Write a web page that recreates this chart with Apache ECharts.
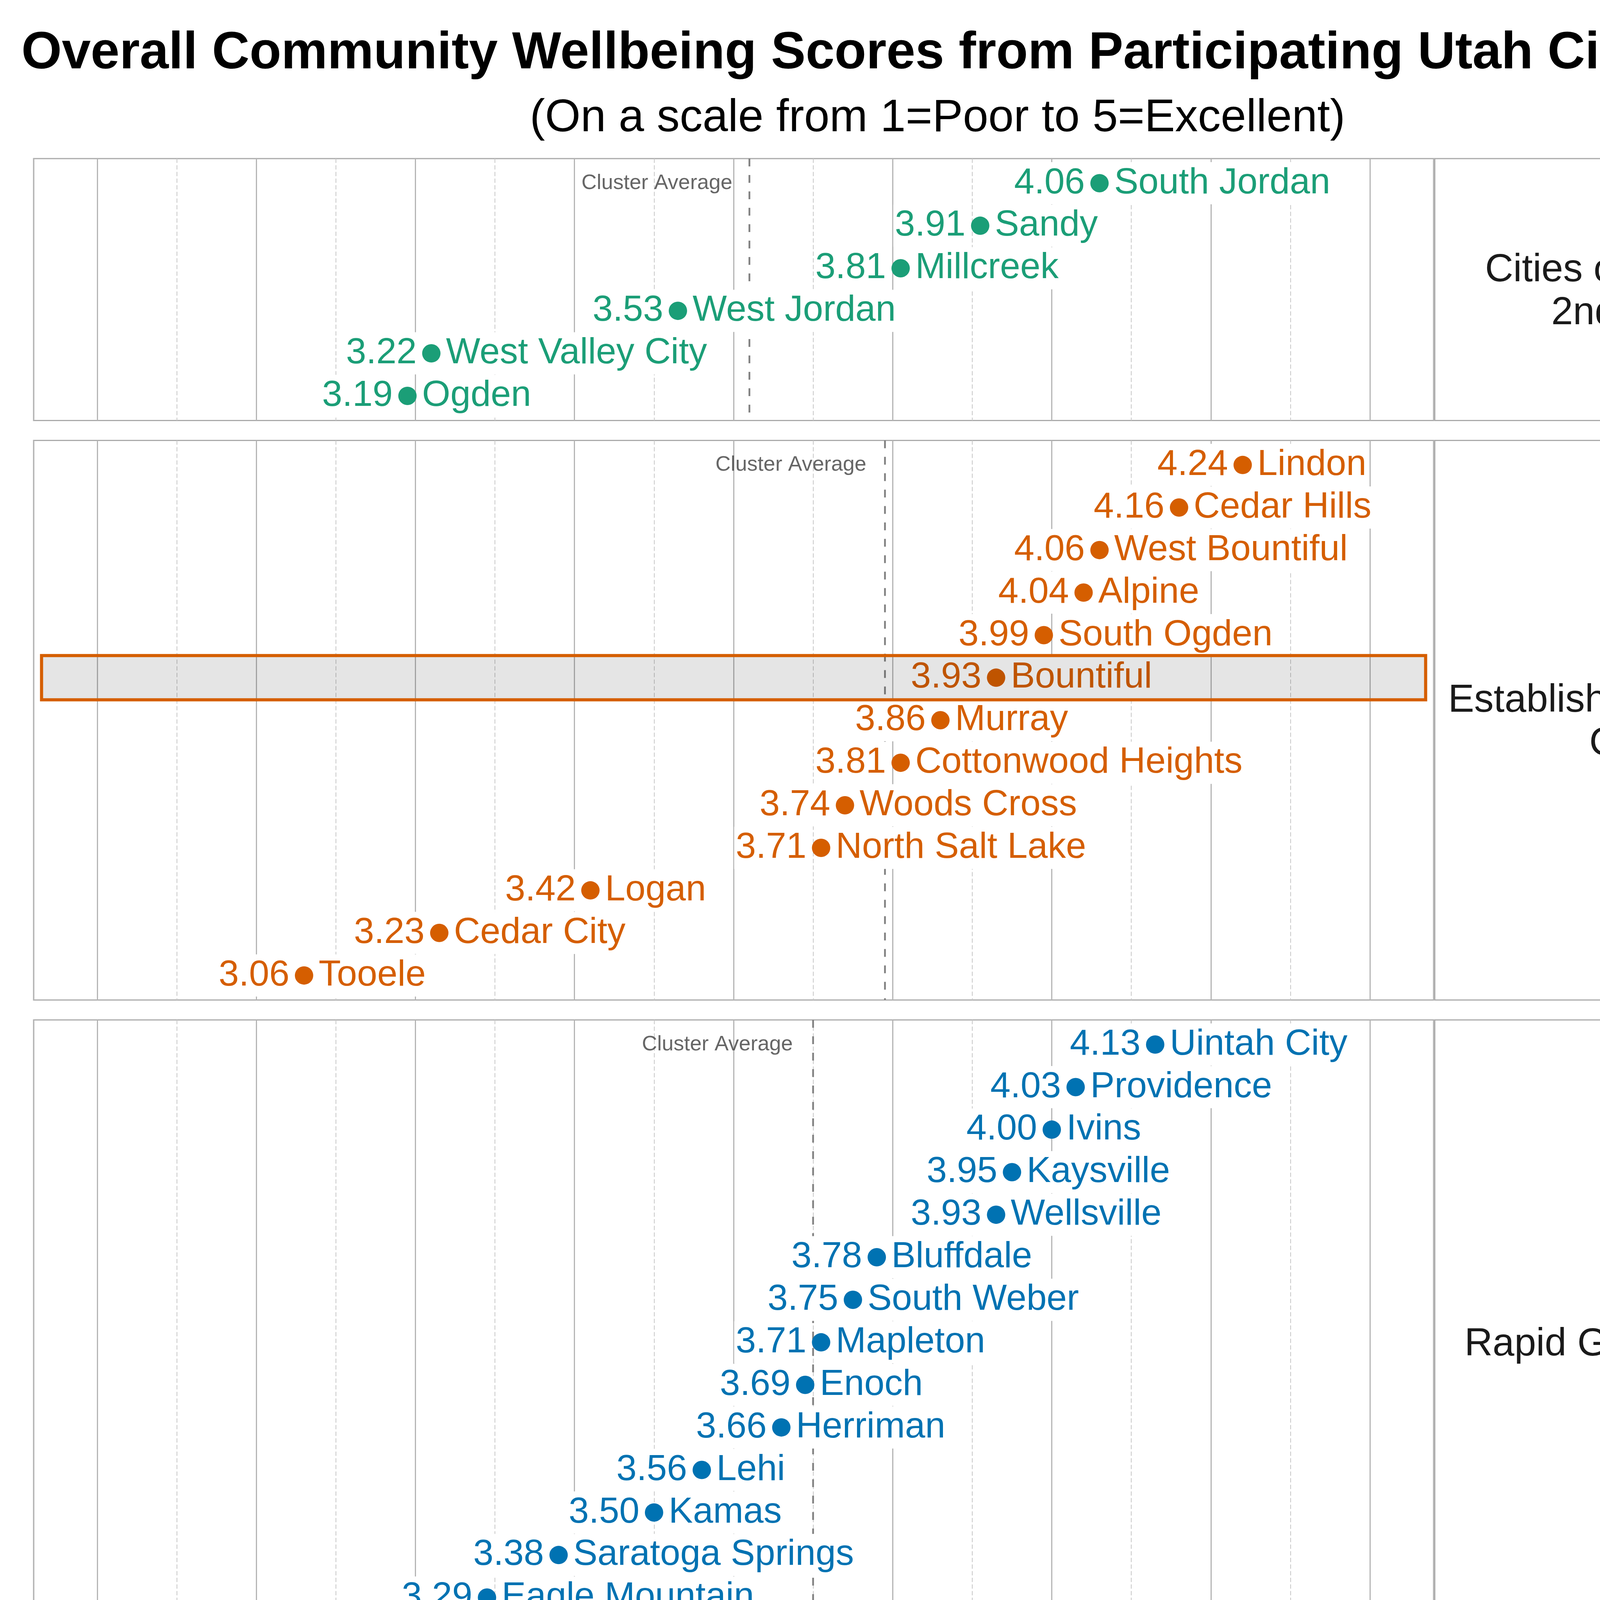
<!DOCTYPE html>
<html>
<head>
<meta charset="utf-8">
<title>Utah Community Wellbeing 2026</title>
<script src="https://cdn.jsdelivr.net/npm/echarts@6/dist/echarts.min.js"></script>
<style>
  html, body { margin: 0; padding: 0; background: #fff; }
  #chart { width: 4800px; height: 7200px; }
</style>
</head>
<body>
<div id="chart"></div>
<script>
// 各组城市与得分
const clusterNames = [
  'Cities of the 1st &\n2nd Class',
  'Established/Mid-sized\nCities',
  'Rapid Growth Cities',
  'Rural Hub/Resort\nCommunities',
  'Traditional Rural\nCommunities'
]
const clusterColors = ['#1b9e77', '#d55e00', '#0072b2', '#b2182b', '#6a3d9a']

const firstClassCities = ['South Jordan', 'Sandy', 'Millcreek', 'West Jordan', 'West Valley City', 'Ogden']
const firstClassScores = [4.06, 3.91, 3.81, 3.53, 3.22, 3.19]

const establishedCities = ['Lindon', 'Cedar Hills', 'West Bountiful', 'Alpine', 'South Ogden', 'Bountiful',
  'Murray', 'Cottonwood Heights', 'Woods Cross', 'North Salt Lake', 'Logan', 'Cedar City', 'Tooele']
const establishedScores = [4.24, 4.16, 4.06, 4.04, 3.99, 3.93, 3.86, 3.81, 3.74, 3.71, 3.42, 3.23, 3.06]

const rapidCities = ['Uintah City', 'Providence', 'Ivins', 'Kaysville', 'Wellsville', 'Bluffdale', 'South Weber',
  'Mapleton', 'Enoch', 'Herriman', 'Lehi', 'Kamas', 'Saratoga Springs', 'Eagle Mountain', 'Grantsville']
const rapidScores = [4.13, 4.03, 4.00, 3.95, 3.93, 3.78, 3.75, 3.71, 3.69, 3.66, 3.56, 3.50, 3.38, 3.29, 3.08]

const ruralHubCities = ['Midway', 'Alta', 'Morgan', 'Bluff', 'Springdale', 'Richfield', 'Heber', 'Nephi',
  'Manila', 'Blanding', 'Vernal', 'Moab', 'Tremonton', 'Wendover']
const ruralHubScores = [4.24, 4.15, 3.89, 3.80, 3.71, 3.57, 3.51, 3.51, 3.51, 3.33, 3.21, 3.12, 2.94, 2.92]

const traditionalCities = ['Mayfield', 'Lewiston', 'Toquerville', 'Ferron', 'Orangeville', 'Lake Point',
  'La Verkin', 'Delta', 'Stockton']
const traditionalScores = [4.08, 3.99, 3.83, 3.76, 3.72, 3.62, 3.57, 3.35, 3.30]

const highlightCity = 'Bountiful'
const xMin = 2.72
const xMax = 4.48

const clusters = [
  [firstClassCities, firstClassScores],
  [establishedCities, establishedScores],
  [rapidCities, rapidScores],
  [ruralHubCities, ruralHubScores],
  [traditionalCities, traditionalScores]
]

// 版面尺寸
const FONT = "'Liberation Sans', Arial, Helvetica, sans-serif"
const ROW = 108.9
const PAD = 8.5
const GAP = 51
const TOP0 = 406
const LEFT = 86
const PLOT_W = 3584
const STRIP_W = 1041
const DOT = 47

const chart = echarts.init(document.getElementById('chart'), null, { renderer: 'canvas', devicePixelRatio: 1 })

const grids = [], xAxes = [], yAxes = [], series = [], graphics = []
let panelTop = TOP0
clusters.forEach(([cities, scores], i) => {
  const n = cities.length
  const h = n * ROW + 2 * PAD
  const color = clusterColors[i]
  const last = i === clusters.length - 1
  const avg = scores.reduce((a, b) => a + b, 0) / n

  grids.push({ left: LEFT, top: panelTop, width: PLOT_W, height: h, show: true,
    borderColor: '#aaaaaa', borderWidth: 3, backgroundColor: 'transparent' })

  xAxes.push({
    type: 'value', gridIndex: i, min: xMin, max: xMax, splitNumber: 8,
    axisLine: { show: last, onZero: false, lineStyle: { color: '#aaaaaa', width: 4 } },
    axisTick: { show: false },
    axisLabel: { show: last, fontSize: 75, color: '#111', fontFamily: FONT, margin: 22,
      showMinLabel: false, showMaxLabel: false, formatter: v => v.toFixed(1) },
    splitLine: { show: true, lineStyle: { color: '#b5b5b5', width: 3 } },
    minorTick: { show: false, splitNumber: 2 },
    minorSplitLine: { show: true, lineStyle: { color: '#c8c8c8', width: 2, type: [11, 6] } },
    name: last ? 'Average Score' : '', nameLocation: 'middle', nameGap: 132,
    nameTextStyle: { fontSize: 83, color: '#111', fontFamily: FONT }
  })
  yAxes.push({ type: 'value', gridIndex: i, inverse: true, show: false,
    min: -0.5 - PAD / ROW, max: n - 0.5 + PAD / ROW })

  const pts = scores.map((s, j) => ({ name: cities[j], value: [s, j] }))
  const labelBase = { show: true, color: color, opacity: 1, fontSize: 93, fontFamily: FONT,
    backgroundColor: '#fff', padding: [5, 4], lineHeight: 98 }

  // 平均线 + "Cluster Average" 标注
  series.push({
    type: 'scatter', xAxisIndex: i, yAxisIndex: i, z: 1, silent: true,
    symbolSize: 0, itemStyle: { color: '#404040' }, data: [[avg, 0]],
    label: { show: true, position: 'left', distance: 44, formatter: 'Cluster Average',
      fontSize: 54, color: '#404040', fontFamily: FONT },
    markLine: { silent: true, z: 1, symbol: 'none', label: { show: false },
      lineStyle: { color: '#808080', width: 4.5, type: [20, 22] },
      data: [{ xAxis: avg }] }
  })
  // 数值标签
  series.push({
    type: 'scatter', xAxisIndex: i, yAxisIndex: i, z: 3, silent: true,
    symbolSize: 0, itemStyle: { color: color },
    data: pts,
    label: Object.assign({}, labelBase, { position: 'left', distance: DOT / 2 + 10,
      formatter: p => p.value[0].toFixed(2) })
  })
  // 点 + 城市名
  series.push({
    type: 'scatter', xAxisIndex: i, yAxisIndex: i, z: 4, silent: true,
    symbol: 'circle', symbolSize: DOT, itemStyle: { color: color, opacity: 1 },
    data: pts,
    label: Object.assign({}, labelBase, { position: 'right', distance: 10, formatter: '{b}' })
  })

  // 高亮 Bountiful 行
  const hi = cities.indexOf(highlightCity)
  if (hi >= 0) {
    series.push({
      type: 'scatter', xAxisIndex: i, yAxisIndex: i, z: 20, silent: true, data: [],
      markArea: { silent: true, z: 20,
        itemStyle: { color: 'rgba(0,0,0,0.1)', borderColor: color, borderWidth: 8 },
        data: [[{ xAxis: xMin + 0.01, yAxis: hi - 0.52 }, { xAxis: xMax - 0.01, yAxis: hi + 0.52 }]] }
    })
  }

  // 右侧分组标签框
  graphics.push({ type: 'rect', shape: { x: LEFT + PLOT_W + 3, y: panelTop, width: STRIP_W, height: h },
    style: { fill: '#fff', stroke: '#aaaaaa', lineWidth: 3 }, z: 0 })
  graphics.push({ type: 'text', x: LEFT + PLOT_W + 3 + STRIP_W / 2, y: panelTop + h / 2 + 6,
    style: { text: clusterNames[i], align: 'center', verticalAlign: 'middle',
      font: '100px ' + FONT, fill: '#1a1a1a', lineHeight: 110 }, z: 1 })

  panelTop += h + GAP
})

chart.setOption({
  backgroundColor: '#fff',
  animation: false,
  title: [
    { text: 'Overall Community Wellbeing Scores from Participating Utah Cities (2026)', left: 'center', top: 67,
      textStyle: { fontSize: 133, fontWeight: 'bold', color: '#000', fontFamily: FONT } },
    { text: '(On a scale from 1=Poor to 5=Excellent)', left: 'center', top: 240,
      textStyle: { fontSize: 117, fontWeight: 'normal', color: '#000', fontFamily: FONT } }
  ],
  grid: grids,
  xAxis: xAxes,
  yAxis: yAxes,
  series: series,
  graphic: graphics
})
</script>
</body>
</html>
